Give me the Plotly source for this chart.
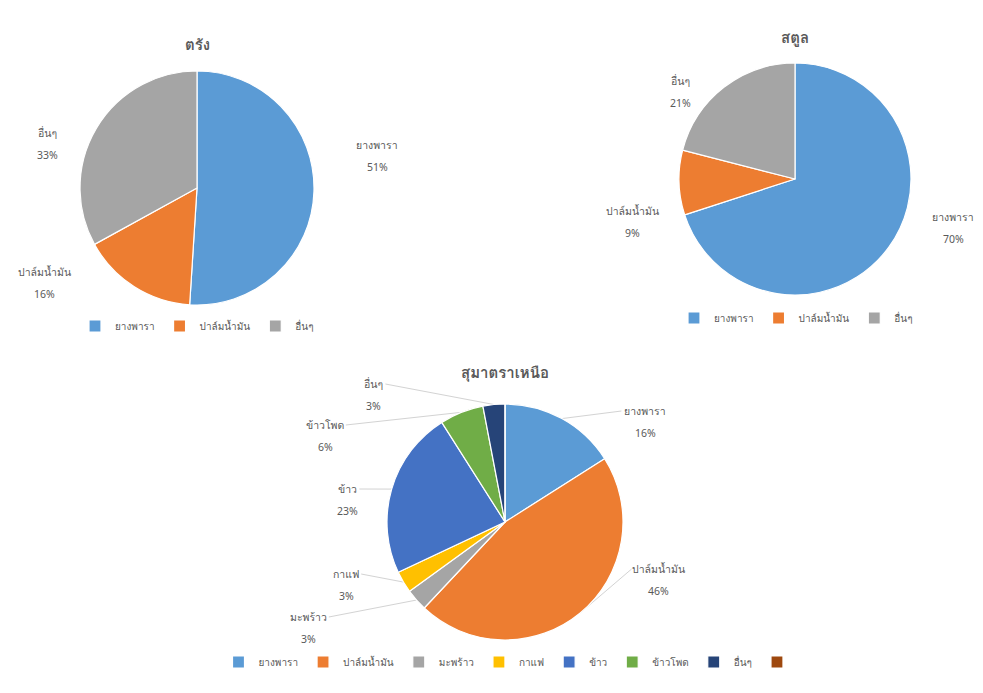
import math
import plotly.graph_objects as go

W, H = 983, 693

# ---- data ----
trang_labels = ["ยางพารา", "ปาล์มน้ำมัน", "อื่นๆ"]
trang_values = [51, 16, 33]

satun_labels = ["ยางพารา", "ปาล์มน้ำมัน", "อื่นๆ"]
satun_values = [70, 9, 21]

sumatra_labels = ["ยางพารา", "ปาล์มน้ำมัน", "มะพร้าว", "กาแฟ", "ข้าว", "ข้าวโพด", "อื่นๆ", " "]
sumatra_values = [16, 46, 3, 3, 23, 6, 3, 0]

titles = ["ตรัง", "สตูล", "สุมาตราเหนือ"]

colors3 = ["#5B9BD5", "#ED7D31", "#A5A5A5"]
colors8 = ["#5B9BD5", "#ED7D31", "#A5A5A5", "#FFC000", "#4472C4", "#70AD47", "#264478", "#9E480E"]

# ---- layout (pixel geometry) ----
FONT = "Noto Sans, Loma, Garuda, sans-serif"
TXT = "#595959"
LINE = "#D3D3D3"

pies = [
    dict(labels=trang_labels, values=trang_values, colors=colors3, cx=197, cy=188, r=117,
         legend="legend", title_xy=(197, 44), leaders=False,
         label_xy=[(377, 156), (44, 283), (47, 144)]),
    dict(labels=satun_labels, values=satun_values, colors=colors3, cx=795, cy=179, r=116,
         legend="legend2", title_xy=(795, 37), leaders=False,
         label_xy=[(953, 228), (632, 222), (680, 92)]),
    dict(labels=sumatra_labels, values=sumatra_values, colors=colors8, cx=505, cy=522, r=118,
         legend="legend3", title_xy=(505, 372), leaders=True,
         label_xy=[(645, 422), (658, 580), (308, 628), (346, 585), (347, 500), (325, 436), (373, 395), None]),
]

COMBINING = set("ัิีึืฺุู็่้๊๋์ํ")


def text_w(s, px=5.6):
    return sum(0 if ch in COMBINING else px for ch in s)


def px2paper(x, y):
    return x / W, 1 - y / H


fig = go.Figure()
annotations = []
shapes = []

for k, p in enumerate(pies):
    cx, cy, r = p["cx"], p["cy"], p["r"]
    # unique label names per pie so each pie gets its own legend entries
    uniq = [l + "\u200b" * k for l in p["labels"]]
    fig.add_trace(go.Pie(
        labels=uniq, values=p["values"], sort=False, direction="clockwise", rotation=0,
        domain=dict(x=[(cx - r) / W, (cx + r) / W], y=[1 - (cy + r) / H, 1 - (cy - r) / H]),
        legend=p["legend"],
        marker=dict(colors=p["colors"], line=dict(color="white", width=1.2)),
        textinfo="none", hoverinfo="label+percent",
    ))
    tx, ty = px2paper(*p["title_xy"])
    annotations.append(dict(text=f"<b>{titles[k]}</b>", x=tx, y=ty, xref="paper", yref="paper",
                            xanchor="center", yanchor="middle",
                            showarrow=False, font=dict(size=15, color=TXT, family=FONT)))
    tot = sum(p["values"])
    cum = 0
    for lab, v, pos in zip(p["labels"], p["values"], p["label_xy"]):
        mid = (cum + v / 2) / tot * 2 * math.pi
        cum += v
        if pos is None or v <= 0:
            continue
        lx, ly = pos
        pct = f"{round(v * 100 / tot)}%"
        for txt, yy in ((lab, ly - 11), (pct, ly + 11)):
            ax_, ay_ = px2paper(lx, yy)
            annotations.append(dict(text=txt, x=ax_, y=ay_, xref="paper", yref="paper",
                                    xanchor="center", yanchor="middle",
                                    showarrow=False, font=dict(size=10.5, color=TXT, family=FONT)))
        if not p["leaders"]:
            continue
        # leader line from the label to the slice edge
        ex = cx + r * math.sin(mid)
        ey = cy - r * math.cos(mid)
        hw = text_w(lab) / 2 + 4
        sx = lx + hw if ex > lx else lx - hw
        sy = ly - 11
        if abs(ex - sx) > 12 or abs(ey - sy) > 12:
            x0, y0 = px2paper(sx, sy)
            x1, y1 = px2paper(ex, ey)
            shapes.append(dict(type="line", xref="paper", yref="paper", x0=x0, y0=y0, x1=x1, y1=y1,
                               line=dict(color=LINE, width=1), layer="below"))

leg = dict(orientation="h", xanchor="center", yanchor="middle", bgcolor="rgba(0,0,0,0)",
           font=dict(size=10, color=TXT, family=FONT), itemwidth=30, tracegroupgap=0)

fig.update_layout(
    width=W, height=H, margin=dict(l=0, r=0, t=0, b=0),
    paper_bgcolor="white", plot_bgcolor="white",
    font=dict(family=FONT, color=TXT),
    legend=dict(leg, x=197 / W, y=1 - 326 / H),
    legend2=dict(leg, x=796 / W, y=1 - 318 / H),
    legend3=dict(leg, x=512 / W, y=1 - 662 / H),
    annotations=annotations,
    shapes=shapes,
)

fig.write_html("out.html")
